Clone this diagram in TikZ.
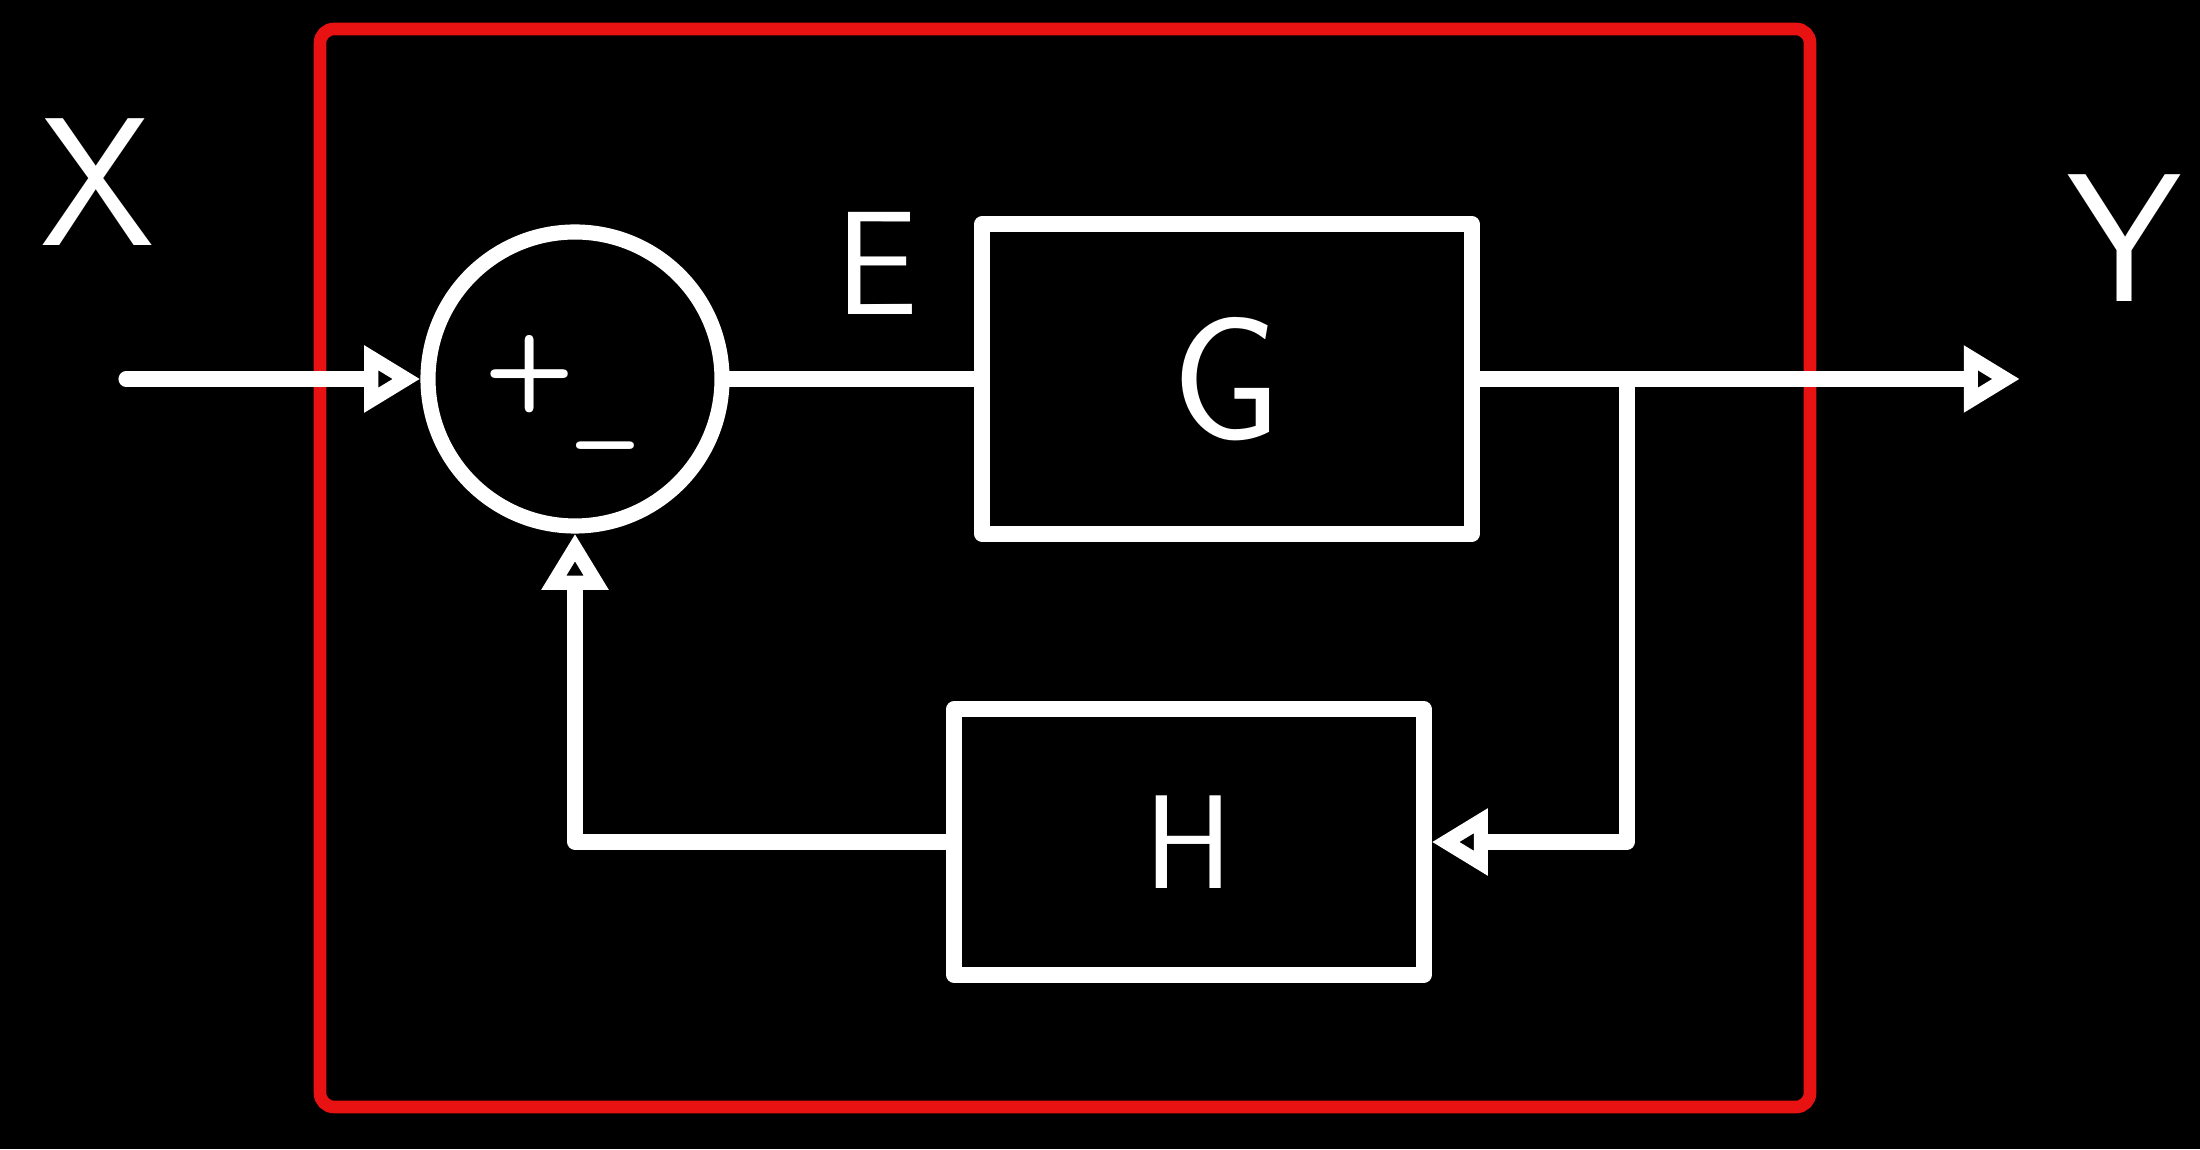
\documentclass[tikz,border=0pt]{standalone}
\usepackage{tikz}
\usetikzlibrary{arrows.meta, positioning, calc}
\definecolor{penred}{RGB}{232,18,18}

\begin{document}
\begin{tikzpicture}[
    sig/.style={draw=white, line width=4.3pt, line cap=round, line join=round},
    arrow/.style={sig, -{Triangle[open, length=16pt, width=18pt]}},
    blk/.style={sig, rectangle, text=white, font=\sffamily\fontsize{50}{58}\selectfont},
    sumnode/.style={sig, circle, minimum size=2.94cm, inner sep=0pt},
    lbl/.style={text=white, font=\sffamily\fontsize{52}{60}\selectfont},
    sgn/.style={text=white, inner sep=0pt, font=\sffamily\bfseries\fontsize{30}{34}\selectfont}
]
    \fill[black] (0,0) rectangle (22,11.49);
    \useasboundingbox (0,0) rectangle (22,11.49);
    % enclosing system
    \draw[penred, line width=3.6pt, rounded corners=4pt] (3.2,0.42) rectangle (18.1,11.2);
    % blocks
    \node[sumnode] (sum) at (5.75,7.7) {};
    \node[sgn] (plus) at ($(sum.center)+(-0.45,0.05)$) {+};
    \node[sgn] (minus) at ($(sum.center)+(0.3,-0.8)$) {--};
    \node[blk, minimum width=4.9cm, minimum height=3.1cm] (G) at (12.27,7.7) {G};
    \node[blk, minimum width=4.7cm, minimum height=2.66cm, font=\sffamily\fontsize{38}{44}\selectfont] (H) at (11.89,3.07) {H};
    % signals
    \coordinate (in) at (1.26,7.7);
    \coordinate (out) at (20.2,7.7);
    \coordinate (branch) at (16.27,7.7);
    \node[lbl] (X) at (0.98,9.67) {X};
    \node[lbl] (Y) at (21.25,9.11) {Y};
    \draw[arrow] (in) -- (sum.west);
    \draw[sig] (sum.east) -- (G.west) node[lbl, pos=0.6, above=0.45cm, font=\sffamily\fontsize{42}{48}\selectfont] (E) {E};
    \draw[arrow] (G.east) -- (out);
    \draw[arrow] (branch) |- (H.east);
    \draw[arrow] (H.west) -| (sum.south);
\end{tikzpicture}
\end{document}
